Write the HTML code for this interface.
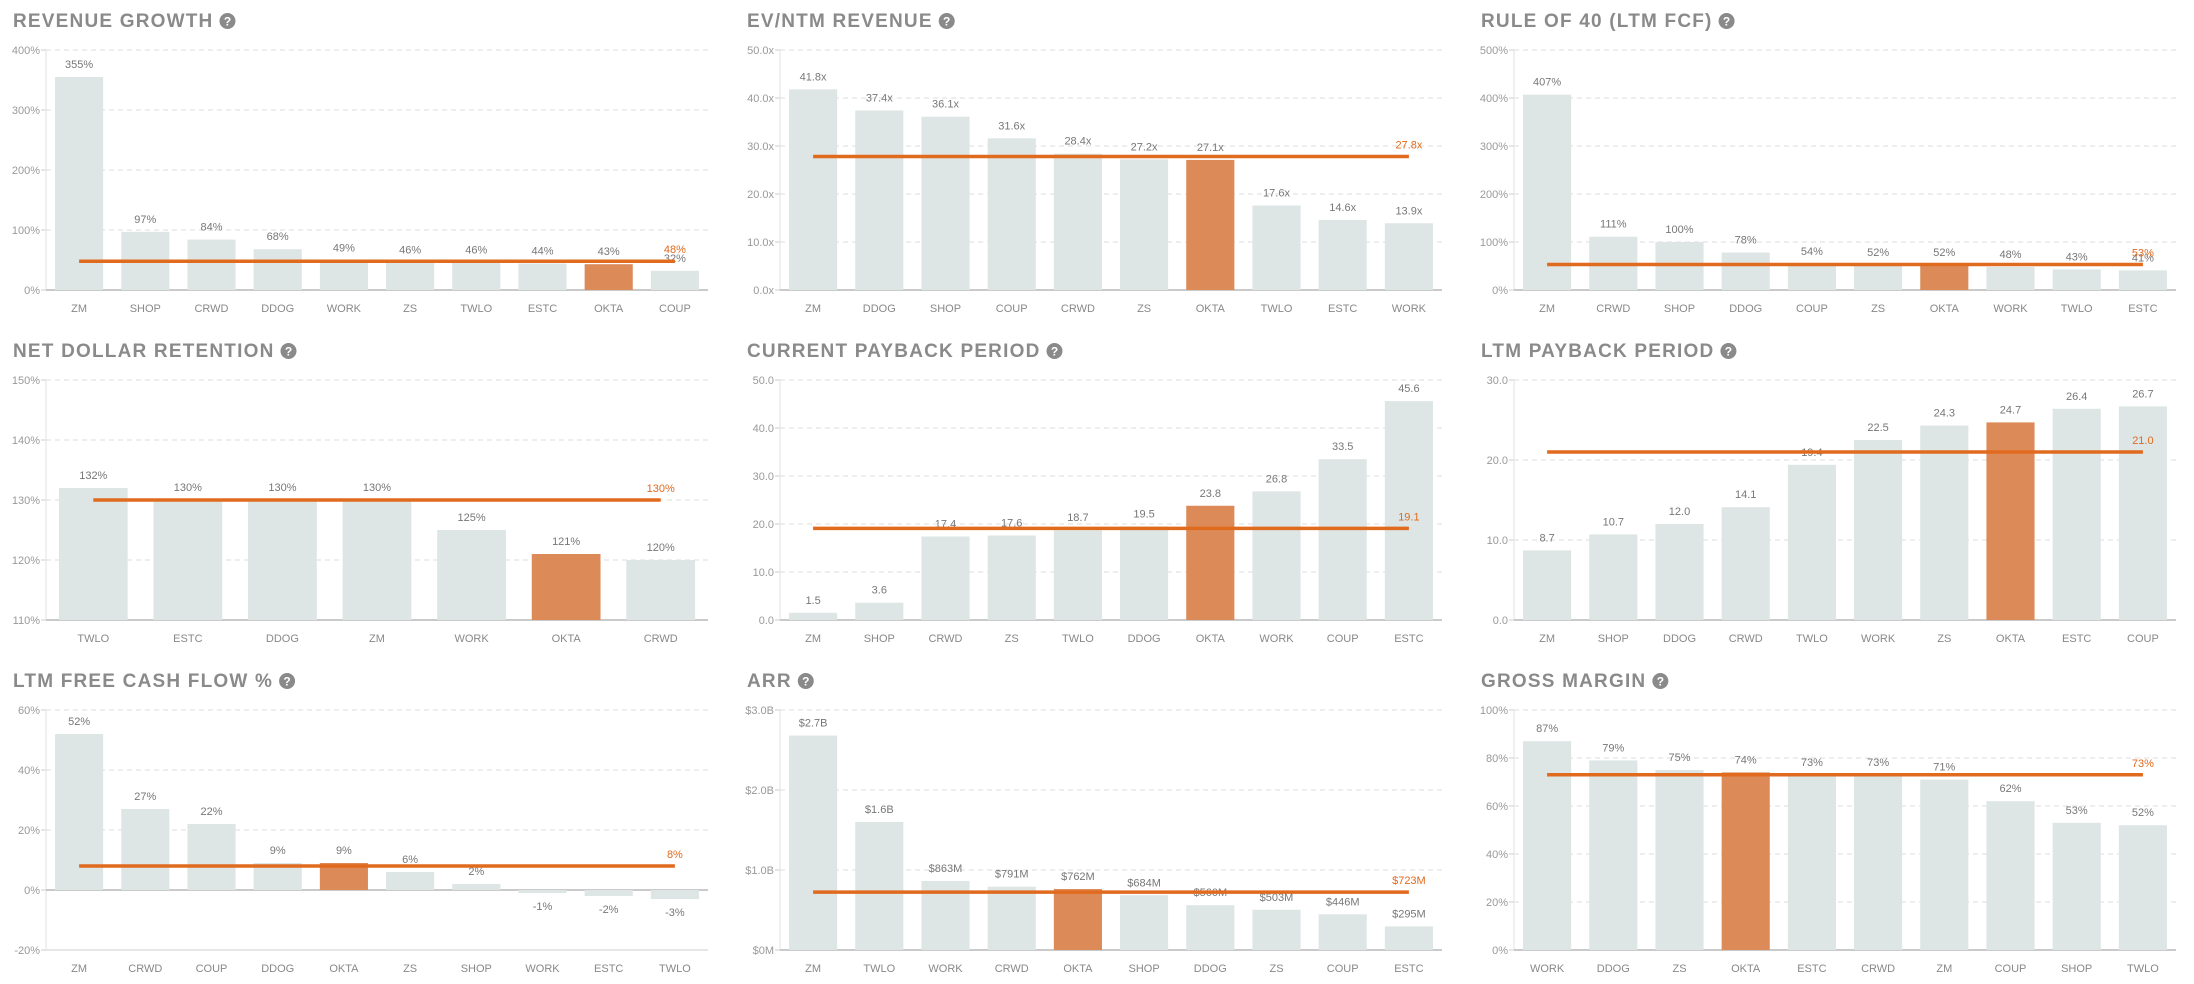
<!DOCTYPE html>
<html><head><meta charset="utf-8">
<style>
html,body{margin:0;padding:0;background:#fff;width:2194px;height:984px;overflow:hidden;font-family:"Liberation Sans",sans-serif;}
svg{display:block}
</style></head>
<body>
<svg id="root" width="2194" height="984" xmlns="http://www.w3.org/2000/svg"></svg>
<script>
// ---- Chart data ----
const cats1 = ["ZM","SHOP","CRWD","DDOG","WORK","ZS","TWLO","ESTC","OKTA","COUP"];
const vals1 = [355,97,84,68,49,46,46,44,43,32];
const avg1 = 48;
const ticks1 = [0,100,200,300,400];

const cats2 = ["ZM","DDOG","SHOP","COUP","CRWD","ZS","OKTA","TWLO","ESTC","WORK"];
const vals2 = [41.8,37.4,36.1,31.6,28.4,27.2,27.1,17.6,14.6,13.9];
const avg2 = 27.8;
const ticks2 = [0,10,20,30,40,50];

const cats3 = ["ZM","CRWD","SHOP","DDOG","COUP","ZS","OKTA","WORK","TWLO","ESTC"];
const vals3 = [407,111,100,78,54,52,52,48,43,41];
const avg3 = 53;
const ticks3 = [0,100,200,300,400,500];

const cats4 = ["TWLO","ESTC","DDOG","ZM","WORK","OKTA","CRWD"];
const vals4 = [132,130,130,130,125,121,120];
const avg4 = 130;
const ticks4 = [110,120,130,140,150];

const cats5 = ["ZM","SHOP","CRWD","ZS","TWLO","DDOG","OKTA","WORK","COUP","ESTC"];
const vals5 = [1.5,3.6,17.4,17.6,18.7,19.5,23.8,26.8,33.5,45.6];
const avg5 = 19.1;
const ticks5 = [0,10,20,30,40,50];

const cats6 = ["ZM","SHOP","DDOG","CRWD","TWLO","WORK","ZS","OKTA","ESTC","COUP"];
const vals6 = [8.7,10.7,12.0,14.1,19.4,22.5,24.3,24.7,26.4,26.7];
const avg6 = 21.0;
const ticks6 = [0,10,20,30];

const cats7 = ["ZM","CRWD","COUP","DDOG","OKTA","ZS","SHOP","WORK","ESTC","TWLO"];
const vals7 = [52,27,22,9,9,6,2,-1,-2,-3];
const avg7 = 8;
const ticks7 = [-20,0,20,40,60];

const cats8 = ["ZM","TWLO","WORK","CRWD","OKTA","SHOP","DDOG","ZS","COUP","ESTC"];
const vals8 = [2680,1600,863,791,762,684,560,503,446,295];
const avg8 = 723;
const ticks8 = [0,1000,2000,3000];

const cats9 = ["WORK","DDOG","ZS","OKTA","ESTC","CRWD","ZM","COUP","SHOP","TWLO"];
const vals9 = [87,79,75,74,73,73,71,62,53,52];
const avg9 = 73;
const ticks9 = [0,20,40,60,80,100];

const NS = "http://www.w3.org/2000/svg";
const root = document.getElementById('root');
function mk(tag, attrs, parent, text){
  const e = document.createElementNS(NS, tag);
  for (const k in attrs) e.setAttribute(k, attrs[k]);
  if (text !== undefined) e.textContent = text;
  (parent||root).appendChild(e);
  return e;
}
const pct = v => Math.round(v) + "%";
const x1 = v => v.toFixed(1) + "x";
const d1 = v => v.toFixed(1);
const money = v => v >= 1000 ? "$" + (v/1000).toFixed(1) + "B" : "$" + Math.round(v) + "M";
const moneyTick = v => v === 0 ? "$0M" : "$" + (v/1000).toFixed(1) + "B";

function chart(col,row,title,slug,cats,vals,avg,ticks,fmt,tfmt){
  const cx = 13 + col*734, top = 50 + row*330;
  const g = mk('g',{}, root);
  
  
  const t = mk('text',{x:cx,y:top-23,'font-size':19,'font-weight':'bold',fill:'#8a8a8a','letter-spacing':'1.2'},g,title);
  
  
  const tw = t.getComputedTextLength();
  const hg = mk('g',{},g);
  
  
  mk('circle',{cx:cx+tw+14,cy:top-29,r:8,fill:'#8a8a8a'},hg);
  mk('text',{x:cx+tw+14,y:top-24.5,'font-size':12,'font-weight':'bold',fill:'#fff','text-anchor':'middle'},hg,'?');
  const x0 = cx + 33, W = 662, H = 240;
  const lo = ticks[0], hi = ticks[ticks.length-1];
  const y = v => top + H - (v - lo) / (hi - lo) * H;
  ticks.forEach(tv => {
    const yy = y(tv);
    const gl = mk('line',{x1:x0,x2:x0+W,y1:yy,y2:yy,stroke:'#ddd','stroke-dasharray':'5,4'},g);
    
    
    mk('line',{x1:x0-5,x2:x0,y1:yy,y2:yy,stroke:'#ccc'},g);
    const tl = mk('text',{x:x0-6,y:yy+4,'font-size':11,fill:'#999','text-anchor':'end'},g,tfmt(tv));
    
    
  });
  const ax = mk('line',{x1:x0,x2:x0,y1:top,y2:top+H,stroke:'#e2e2e2'},g);
  
  
  const base = lo < 0 ? 0 : lo;
  const bl = mk('line',{x1:x0,x2:x0+W,y1:y(base),y2:y(base),stroke:'#aaa','stroke-width':1.2},g);
  
  
  if (lo < 0){
    mk('line',{x1:x0,x2:x0+W,y1:top+H,y2:top+H,stroke:'#ccc'},g);
  }
  const band = W / cats.length, bw = band * 0.727;
  vals.forEach((v,i) => {
    const bx = x0 + i*band + (band-bw)/2, mid = x0 + i*band + band/2;
    const ya = y(v), yb = y(base);
    const hl = cats[i] === 'OKTA';
    const r = mk('rect',{x:bx,y:Math.min(ya,yb),width:bw,height:Math.abs(yb-ya),fill:hl?'#dc8a58':'#dde5e5'},g);
    
    
    const vl = mk('text',{x:mid,y:v>=base?ya-9:ya+17,'font-size':11,fill:'#777','text-anchor':'middle'},g,fmt(v));
    
    
    const cl = mk('text',{x:mid,y:top+H+22,'font-size':11,fill:'#888','text-anchor':'middle'},g,cats[i]);
    
    
  });
  const m0 = x0 + band/2, m1 = x0 + (cats.length-0.5)*band;
  const al = mk('line',{x1:m0,x2:m1,y1:y(avg),y2:y(avg),stroke:'#e06a1e','stroke-width':3.5},g);
  
  
  const alab = mk('text',{x:m1,y:y(avg)-8,'font-size':11,fill:'#e06a1e','text-anchor':'middle'},g,fmt(avg));
  
  
}
chart(0,0,'REVENUE GROWTH','revenue-growth',cats1,vals1,avg1,ticks1,pct,pct);
chart(1,0,'EV/NTM REVENUE','ev-ntm-revenue',cats2,vals2,avg2,ticks2,x1,x1);
chart(2,0,'RULE OF 40 (LTM FCF)','rule-of-40',cats3,vals3,avg3,ticks3,pct,pct);
chart(0,1,'NET DOLLAR RETENTION','net-dollar-retention',cats4,vals4,avg4,ticks4,pct,pct);
chart(1,1,'CURRENT PAYBACK PERIOD','current-payback',cats5,vals5,avg5,ticks5,d1,d1);
chart(2,1,'LTM PAYBACK PERIOD','ltm-payback',cats6,vals6,avg6,ticks6,d1,d1);
chart(0,2,'LTM FREE CASH FLOW %','ltm-fcf',cats7,vals7,avg7,ticks7,pct,pct);
chart(1,2,'ARR','arr',cats8,vals8,avg8,ticks8,money,moneyTick);
chart(2,2,'GROSS MARGIN','gross-margin',cats9,vals9,avg9,ticks9,pct,pct);
</script>
</body></html>
